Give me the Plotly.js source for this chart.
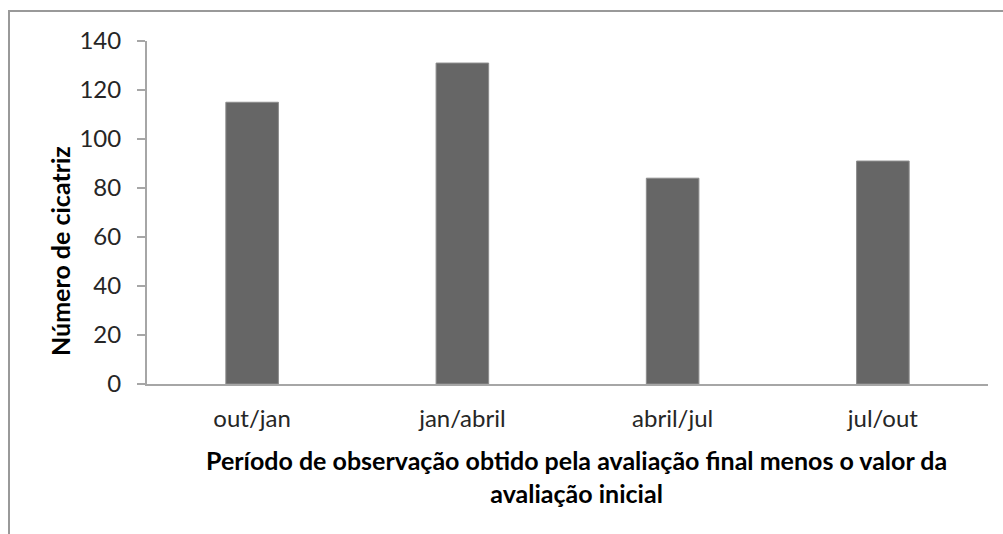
<!DOCTYPE html>
<html>
<head>
<meta charset="utf-8">
<script src="https://cdn.plot.ly/plotly-3.0.1.min.js"></script>
<style>html,body{margin:0;padding:0;background:#fff;}#chart{width:1003px;height:534px;}</style>
</head>
<body>
<div id="chart"></div>
<script>
const categories = ["out/jan", "jan/abril", "abril/jul", "jul/out"];
const values = [115, 131, 84, 91];
const yTickVals = [0, 20, 40, 60, 80, 100, 120, 140];
const yTitle = "Número de cicatriz";
const xTitleLines = ["Período de observação obtido pela avaliação final menos o valor da", "avaliação inicial"];

const W = 1003, H = 534;
const L = 147, R = 15, T = 41, B = 150;
const pw = W - L - R, ph = H - T - B;
const px = v => (v - L) / pw;
const py = v => (H - B - v) / ph;

const font = "Lato, 'DejaVu Sans', sans-serif";

const trace = {
  type: "bar",
  x: categories,
  y: values,
  marker: { color: "#666666", line: { color: "#8c8c8c", width: 1 } },
  hoverinfo: "none"
};

const layout = {
  width: W, height: H,
  margin: { l: L, r: R, t: T, b: B, pad: 0 },
  paper_bgcolor: "#ffffff", plot_bgcolor: "#ffffff",
  showlegend: false,
  bargap: 0.75,
  font: { family: font, color: "#262626", size: 24 },
  xaxis: {
    type: "category",
    showline: true, linecolor: "#a6a6a6", linewidth: 2,
    ticks: "", showgrid: false, zeroline: false,
    tickfont: { family: font, size: 24, color: "#262626" },
    ticklabelstandoff: 12
  },
  yaxis: {
    range: [0, 140],
    tickvals: yTickVals,
    showline: true, linecolor: "#a6a6a6", linewidth: 2,
    ticks: "outside", ticklen: 8, tickcolor: "#a6a6a6", tickwidth: 2,
    showgrid: false, zeroline: false,
    tickfont: { family: font, size: 24, color: "#262626" },
    ticklabelstandoff: 11
  },
  annotations: [
    { text: "<b>" + yTitle + "</b>", xref: "paper", yref: "paper", x: px(60), y: py(251),
      textangle: -90, showarrow: false, xanchor: "center", yanchor: "middle",
      font: { family: font, size: 25, color: "#000" } },
    { text: xTitleLines.map(s => "<b>" + s + "</b>").join("<br>"), xref: "paper", yref: "paper", x: px(576), y: py(476),
      showarrow: false, xanchor: "center", yanchor: "middle",
      font: { family: font, size: 25, color: "#000" } }
  ],
  shapes: [
    { type: "rect", xref: "paper", yref: "paper",
      x0: px(9), x1: px(1020), y0: py(560), y1: py(11),
      line: { color: "#999999", width: 2 }, layer: "below" }
  ]
};

Plotly.newPlot("chart", [trace], layout, { displayModeBar: false, staticPlot: true });
</script>
</body>
</html>
